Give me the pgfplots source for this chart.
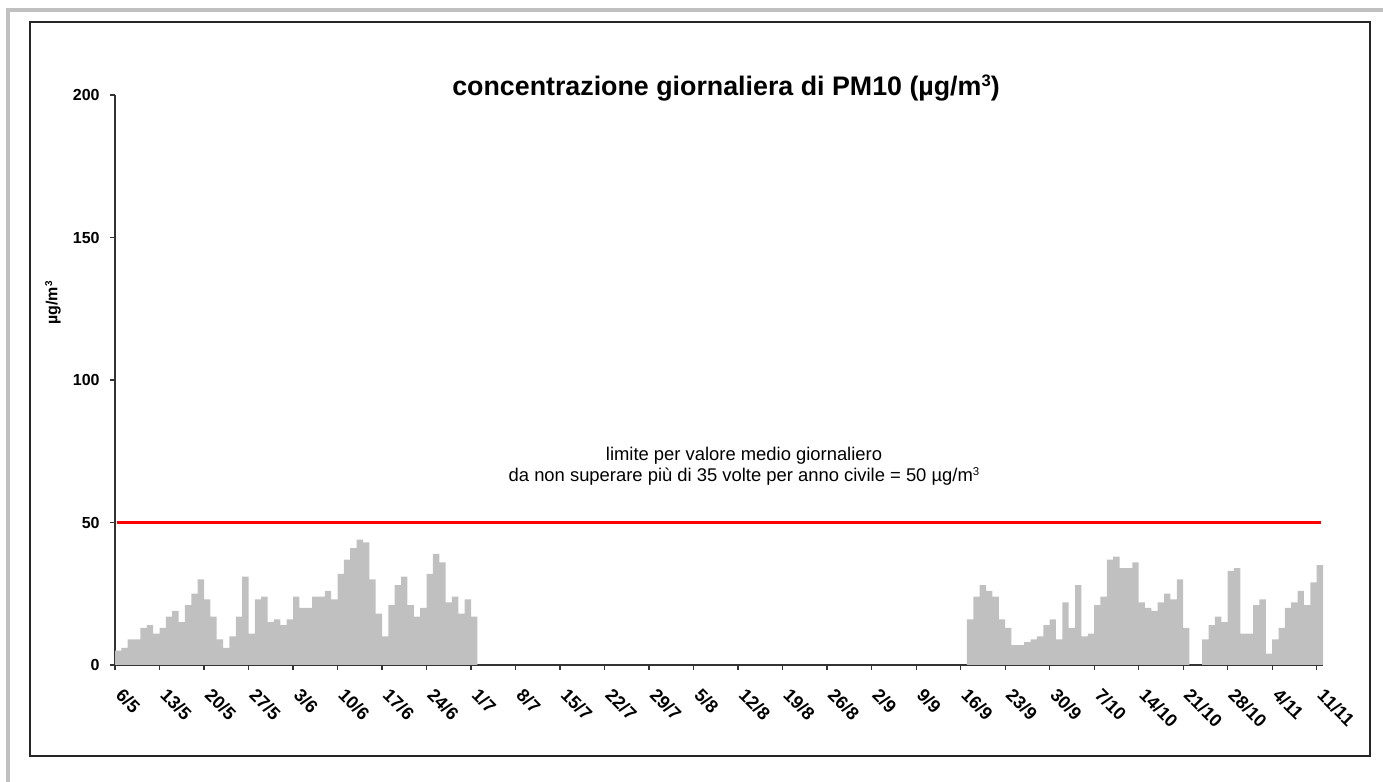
\documentclass[border=0pt]{standalone}
\usepackage{pgfplots}
\pgfplotsset{compat=1.18}
\usepackage{pgfplotstable}
\usepackage{fontspec}
\setmainfont{Liberation Sans}
\definecolor{bargray}{HTML}{C0C0C0}
\definecolor{framegray}{HTML}{C0C0C0}
\pgfplotstableread{
d v
0 5
1 6
2 9
3 9
4 13
5 14
6 11
7 13
8 17
9 19
10 15
11 21
12 25
13 30
14 23
15 17
16 9
17 6
18 10
19 17
20 31
21 11
22 23
23 24
24 15
25 16
26 14
27 16
28 24
29 20
30 20
31 24
32 24
33 26
34 23
35 32
36 37
37 41
38 44
39 43
40 30
41 18
42 10
43 21
44 28
45 31
46 21
47 17
48 20
49 32
50 39
51 36
52 22
53 24
54 18
55 23
56 17
134 16
135 24
136 28
137 26
138 24
139 16
140 13
141 7
142 7
143 8
144 9
145 10
146 14
147 16
148 9
149 22
150 13
151 28
152 10
153 11
154 21
155 24
156 37
157 38
158 34
159 34
160 36
161 22
162 20
163 19
164 22
165 25
166 23
167 30
168 13
171 9
172 14
173 17
174 15
175 33
176 34
177 11
178 11
179 21
180 23
181 4
182 9
183 13
184 20
185 22
186 26
187 21
188 29
189 35
}\pmdata
\newcommand{\supthree}{\raisebox{0.32em}{\scalebox{0.62}{3}}}
\begin{document}
\begin{tikzpicture}[x=0.5pt,y=0.5pt]
\path[use as bounding box] (0,0) rectangle (1383,782);
% outer gray frame (top and left)
\fill[framegray] (6,774) rectangle (1383,770);
\fill[framegray] (6,774) rectangle (10,0);
% black chart frame
\draw[black!85, line width=0.75pt] (30,760) rectangle (1370,26);
\begin{axis}[
  at={(57.5pt,58.5pt)}, anchor=south west,
  scale only axis, width=604pt, height=285pt,
  xmin=0, xmax=190, ymin=0, ymax=200,
  axis x line=bottom, axis y line=left,
  axis line style={-, black!80, line width=0.6pt},
  tick align=outside, major tick length=2.5pt,
  tick style={black!80, line width=0.6pt},
  xtick={0,7,...,189},
  xticklabels={6/5,13/5,20/5,27/5,3/6,10/6,17/6,24/6,1/7,8/7,15/7,22/7,29/7,5/8,12/8,19/8,26/8,2/9,9/9,16/9,23/9,30/9,7/10,14/10,21/10,28/10,4/11,11/11},
  ytick={0,50,100,150,200},
  /pgf/number format/assume math mode=true,
  xticklabel style={font=\fontsize{9}{10}\selectfont\bfseries, inner sep=0pt, xshift=4.5pt, yshift=-8.5pt, rotate=-45, anchor=north west},
  yticklabel style={font=\fontsize{8}{9}\selectfont\bfseries, anchor=east, inner sep=0pt, xshift=-5pt},
  minor tick num=0,
]
\addplot[ybar, bar width=1, bar shift=0, fill=bargray, draw=none] table[x expr=\thisrow{d}+0.5, y=v] {\pmdata};
\addplot[red, line width=1.2pt] coordinates {(0.25,50) (189.75,50)};
\end{axis}
\node[font=\fontsize{13.4}{16}\selectfont\bfseries] at (726,694) {concentrazione giornaliera di PM10 (µg/m\supthree)};
\node[font=\fontsize{8}{9}\selectfont\bfseries, rotate=90] at (53,479) {µg/m\supthree};
\node[align=center, font=\fontsize{9.2}{10.6}\selectfont] at (744,316) {limite per valore medio giornaliero\\da non superare più di 35 volte per anno civile = 50 µg/m\supthree};
\end{tikzpicture}
\end{document}
